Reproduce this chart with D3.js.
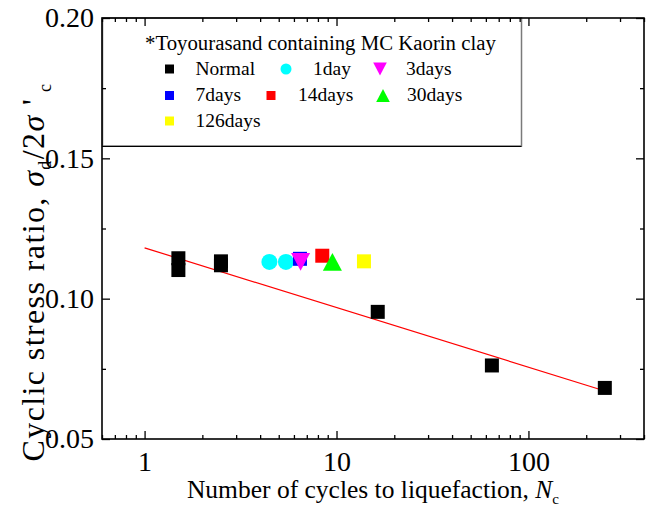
<!DOCTYPE html>
<html>
<head>
<meta charset="utf-8">
<script src="https://cdn.jsdelivr.net/npm/d3@7"></script>
<style>
  body { margin: 0; background: #fff; }
  svg { display: block; font-family: "Liberation Serif", "Times New Roman", serif; }
</style>
</head>
<body>
<div id="chart"></div>
<script>
// values
const xTickValues = [1, 10, 100];
const xTickLabels = ["1", "10", "100"];
const yTickValues = [0.05, 0.10, 0.15, 0.20];
const yTickLabels = ["0.05", "0.10", "0.15", "0.20"];

const normalN = [1.5, 1.5, 2.5, 2.5, 16.4, 64.5, 250];
const normalCSR = [0.1144, 0.1102, 0.1133, 0.1119, 0.0953, 0.0762, 0.0682];
const day1N = [4.47, 5.45];
const day1CSR = [0.1131, 0.1131];
const day3N = [6.5];
const day3CSR = [0.1131];
const day7N = [6.45];
const day7CSR = [0.1142];
const day14N = [8.43];
const day14CSR = [0.1153];
const day30N = [9.52];
const day30CSR = [0.1131];
const day126N = [13.9];
const day126CSR = [0.1133];

const fitN = [1, 253];
const fitCSR = [0.1181, 0.0670];

const legendTitle = "*Toyourasand containing MC Kaorin clay";

// series table (draw order: 7days under 3days, as in the picture)
const series = [
  { name: "Normal", n: normalN, v: normalCSR, shape: "square", color: "#000000" },
  { name: "1day", n: day1N, v: day1CSR, shape: "circle", color: "#00ffff" },
  { name: "7days", n: day7N, v: day7CSR, shape: "square", color: "#0000ff" },
  { name: "3days", n: day3N, v: day3CSR, shape: "down", color: "#ff00ff" },
  { name: "14days", n: day14N, v: day14CSR, shape: "square", color: "#ff0000" },
  { name: "30days", n: day30N, v: day30CSR, shape: "up", color: "#00ff00" },
  { name: "126days", n: day126N, v: day126CSR, shape: "square", color: "#ffff00" },
];

// legend layout: [series name, marker x, text x, row]
const legendLayout = [
  ["Normal", 169.5, 195.5, 0],
  ["1day", 286, 313, 0],
  ["3days", 380, 406, 0],
  ["7days", 169.5, 195.5, 1],
  ["14days", 271, 298, 1],
  ["30days", 383, 407, 1],
  ["126days", 169.5, 195.5, 2],
];

const width = 653;
const height = 509;
const margin = { top: 18, right: 9, bottom: 70, left: 102 };

const x = d3.scaleLog().domain([0.6, 400]).range([margin.left, width - margin.right]);
const y = d3.scaleLinear().domain([0.05, 0.20]).range([height - margin.bottom, margin.top]);

const svg = d3.select("#chart").append("svg")
  .attr("width", width)
  .attr("height", height)
  .attr("viewBox", [0, 0, width, height]);

// marker path centred on its bounding box
function markerPath(shape, s) {
  const h = s / 2;
  if (shape === "square") return `M${-h},${-h}H${h}V${h}H${-h}Z`;
  if (shape === "circle") return d3.symbol(d3.symbolCircle, Math.PI * h * h)();
  const w = s * 0.68, th = s * 0.64;
  if (shape === "up") return `M0,${-th}L${w},${th}L${-w},${th}Z`;
  return `M${-w},${-th}L${w},${-th}L0,${th}Z`;
}
const markerSize = { square: 14, circle: 16, up: 14, down: 14 };
const legendSize = { square: 9, circle: 11, up: 10, down: 10 };

// legend box
const gLegend = svg.append("g").attr("class", "legend");
gLegend.append("rect")
  .attr("x", margin.left + 0.5)
  .attr("y", margin.top)
  .attr("width", 419)
  .attr("height", 128)
  .attr("fill", "#fff")
  .attr("stroke", "#7a7a7a")
  .attr("stroke-width", 1.5);
gLegend.append("line")
  .attr("x1", margin.left).attr("x2", margin.left + 419.5)
  .attr("y1", margin.top + 128.5).attr("y2", margin.top + 128.5)
  .attr("stroke", "#000").attr("stroke-width", 1);
gLegend.append("text")
  .attr("x", 145)
  .attr("y", 49.5)
  .attr("font-size", 20.8)
  .text(legendTitle);

const rowBase = [74.5, 101, 126.5];
legendLayout.forEach(([name, mx, tx, row]) => {
  const s = series.find((d) => d.name === name);
  gLegend.append("path")
    .attr("d", markerPath(s.shape, legendSize[s.shape]))
    .attr("transform", `translate(${mx},${rowBase[row] - 5.5})`)
    .attr("fill", s.color);
  gLegend.append("text")
    .attr("x", tx)
    .attr("y", rowBase[row])
    .attr("font-size", 19.5)
    .text(name);
});

// fit line
svg.append("path")
  .attr("fill", "none")
  .attr("stroke", "#ff0000")
  .attr("stroke-width", 1.2)
  .attr("d", d3.line().x((d) => x(d[0])).y((d) => y(d[1]))(fitN.map((n, i) => [n, fitCSR[i]])));

// data points
const gPoints = svg.append("g").attr("class", "points");
series.forEach((s) => {
  gPoints.append("g")
    .selectAll("path")
    .data(s.n.map((n, i) => [n, s.v[i]]))
    .join("path")
    .attr("d", markerPath(s.shape, markerSize[s.shape]))
    .attr("transform", (d) => `translate(${x(d[0])},${y(d[1])})`)
    .attr("fill", s.color);
});

// axes, ticks inward on all four sides
const bottom = height - margin.bottom;
const right = width - margin.right;
const xMinor = [];
for (let dec = 0.1; dec <= 100; dec *= 10) {
  for (let k = 1; k <= 9; k++) {
    const v = +(k * dec).toPrecision(3);
    if (v >= 0.6 && v <= 400 && !xTickValues.includes(v)) xMinor.push(v);
  }
}
const yMinor = [0.075, 0.125, 0.175];

function drawAxis(axis, pos) {
  svg.append("g")
    .attr("transform", pos)
    .call(axis)
    .call((g) => g.select(".domain").remove())
    .call((g) => g.selectAll(".tick line").attr("stroke", "#000").attr("stroke-width", 1.3))
    .call((g) => g.selectAll(".tick text")
      .attr("font-family", "Liberation Serif, serif")
      .attr("font-size", 28)
      .attr("fill", "#000"));
}

drawAxis(d3.axisBottom(x).tickValues(xTickValues).tickSize(-8).tickPadding(12)
  .tickFormat((d, i) => xTickLabels[i]), `translate(0,${bottom})`);
drawAxis(d3.axisBottom(x).tickValues(xMinor).tickSize(-4).tickFormat(""), `translate(0,${bottom})`);
drawAxis(d3.axisTop(x).tickValues(xTickValues).tickSize(-8).tickFormat(""), `translate(0,${margin.top})`);
drawAxis(d3.axisTop(x).tickValues(xMinor).tickSize(-4).tickFormat(""), `translate(0,${margin.top})`);
drawAxis(d3.axisLeft(y).tickValues(yTickValues).tickSize(-8).tickPadding(8)
  .tickFormat((d, i) => yTickLabels[i]), `translate(${margin.left},0)`);
drawAxis(d3.axisLeft(y).tickValues(yMinor).tickSize(-4).tickFormat(""), `translate(${margin.left},0)`);
drawAxis(d3.axisRight(y).tickValues(yTickValues).tickSize(-8).tickFormat(""), `translate(${right},0)`);
drawAxis(d3.axisRight(y).tickValues(yMinor).tickSize(-4).tickFormat(""), `translate(${right},0)`);

// frame
svg.append("rect")
  .attr("x", margin.left)
  .attr("y", margin.top)
  .attr("width", right - margin.left)
  .attr("height", bottom - margin.top)
  .attr("fill", "none")
  .attr("stroke", "#000")
  .attr("stroke-width", 1.6);

// axis titles
const xTitle = svg.append("text")
  .attr("x", (margin.left + right) / 2)
  .attr("y", 498)
  .attr("text-anchor", "middle")
  .attr("font-size", 25.5);
xTitle.append("tspan").text("Number of cycles to liquefaction,  ");
xTitle.append("tspan").attr("font-style", "italic").text("N");
xTitle.append("tspan").attr("font-size", 15).attr("dy", 6).text("c");

const yTitle = svg.append("text")
  .attr("transform", "translate(44,272) rotate(-90)")
  .attr("text-anchor", "middle")
  .attr("font-size", 32)
  .attr("letter-spacing", 1.4);
yTitle.append("tspan").text("Cyclic stress ratio, ");
yTitle.append("tspan").attr("font-style", "italic").text("σ");
yTitle.append("tspan").attr("font-size", 18).attr("dy", 7).text("d");
yTitle.append("tspan").attr("dy", -7).text("/2");
yTitle.append("tspan").attr("font-style", "italic").text("σ");
yTitle.append("tspan").text(" '");
yTitle.append("tspan").attr("font-size", 18).attr("dy", 7).text(" c");
</script>
</body>
</html>
